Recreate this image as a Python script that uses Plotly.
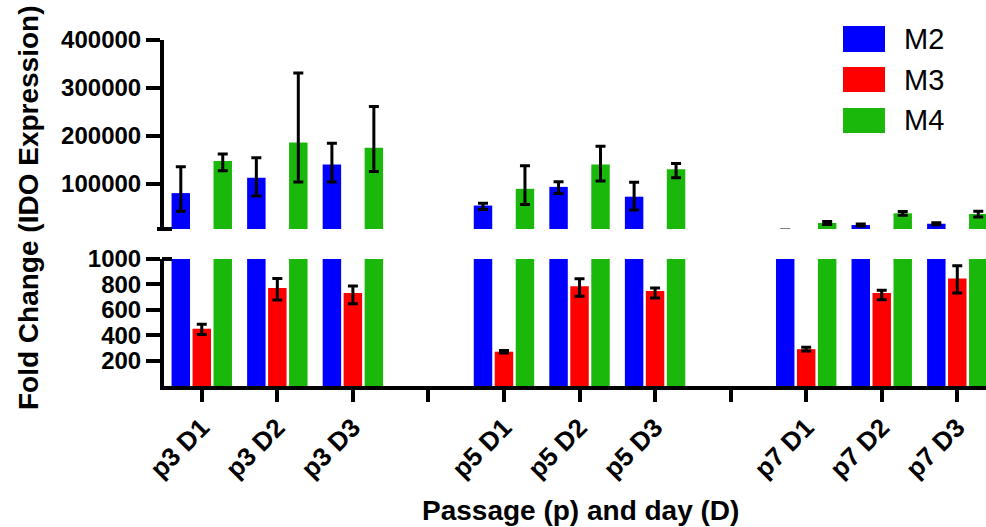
import plotly.graph_objects as go

# ---------------- data ----------------
categories = ["p3 D1", "p3 D2", "p3 D3", "", "p5 D1", "p5 D2", "p5 D3", "", "p7 D1", "p7 D2", "p7 D3"]
series_names = ["M2", "M3", "M4"]

m2_vals = [80000, 112000, 140000, None, 54000, 93000, 72500, None, 3000, 13300, 16000]
m2_err_plus = [55000, 42000, 44000, None, 5000, 11000, 30000, None, None, 2000, 2000]
m2_err_minus = [38000, 38000, 37000, None, 8000, 14000, 28000, None, None, 2000, 2000]

m3_vals = [450, 771, 732, None, 270, 785, 748, None, 290, 732, 847]
m3_err_plus = [36, 76, 55, None, 10, 60, 23, None, 15, 21, 100]
m3_err_minus = [45, 94, 84, None, 10, 79, 56, None, 15, 52, 115]

m4_vals = [147000, 186000, 175000, None, 89000, 140000, 130000, None, 17500, 37700, 36300]
m4_err_plus = [15000, 145000, 86000, None, 48000, 38000, 12000, None, 3000, 4000, 6000]
m4_err_minus = [20000, 83000, 50000, None, 33000, 34500, 18000, None, 3000, 4000, 6000]

top_ticks = [100000, 200000, 300000, 400000]
bottom_ticks = [200, 400, 600, 800, 1000]

colors = {"M2": "#0000FF", "M3": "#FF0000", "M4": "#1BB80C"}

# ---------------- figure ----------------
W, H = 986, 527
FONT = "Liberation Sans, Arial, sans-serif"
xpos = list(range(len(categories)))

fig = go.Figure()

data = {
    "M2": (m2_vals, m2_err_plus, m2_err_minus),
    "M3": (m3_vals, m3_err_plus, m3_err_minus),
    "M4": (m4_vals, m4_err_plus, m4_err_minus),
}

for xa, ya in [("x", "y"), ("x2", "y2")]:
    for name in series_names:
        vals, ep, em = data[name]
        fig.add_trace(go.Bar(
            x=xpos, y=vals, name=name, xaxis=xa, yaxis=ya,
            marker=dict(color=colors[name], line=dict(width=0)),
            error_y=dict(type="data", symmetric=False, array=ep, arrayminus=em,
                         color="black", thickness=3, width=5),
            showlegend=False,
        ))

def px(x):
    return x / W

def py(y):
    return 1 - y / H

x_dom = [px(164), 1.0]
fig.update_layout(
    template="none",
    width=W, height=H, autosize=False,
    margin=dict(l=0, r=0, t=0, b=0, pad=0),
    paper_bgcolor="white", plot_bgcolor="white",
    showlegend=False,
    barmode="group", bargap=0.167, bargroupgap=0.12,
    font=dict(family=FONT, color="black"),
    xaxis=dict(domain=x_dom, range=[-0.5, 10.38], anchor="y", automargin=False,
               tickmode="array", tickvals=xpos, ticktext=categories,
               tickangle=-45, ticks="outside", ticklen=12, tickwidth=3.5, tickcolor="black",
               showline=True, linewidth=4, linecolor="black", showgrid=False, zeroline=False,
               tickfont=dict(family=FONT, size=26, weight="bold")),
    yaxis=dict(domain=[py(386), py(259)], range=[0, 1000], anchor="x", automargin=False,
               tickmode="array", tickvals=bottom_ticks, ticktext=[str(t) for t in bottom_ticks],
               ticks="outside", ticklen=14, tickwidth=3.5, tickcolor="black",
               showline=True, linewidth=4, linecolor="black", showgrid=False, zeroline=False,
               tickfont=dict(family=FONT, size=24, weight="bold")),
    xaxis2=dict(domain=x_dom, range=[-0.5, 10.38], anchor="y2", matches="x", visible=False,
                automargin=False),
    yaxis2=dict(domain=[py(229), py(40)], range=[5000, 400000], anchor="x2", automargin=False,
                tickmode="array", tickvals=top_ticks, ticktext=[str(t) for t in top_ticks],
                ticks="outside", ticklen=14, tickwidth=3.5, tickcolor="black",
                showline=True, linewidth=4, linecolor="black", showgrid=False, zeroline=False,
                tickfont=dict(family=FONT, size=24, weight="bold")),
)

shapes = []
# axis break marks
shapes.append(dict(type="line", xref="paper", yref="paper", x0=px(157), x1=px(172),
                   y0=py(229), y1=py(229), line=dict(color="black", width=4)))
shapes.append(dict(type="line", xref="paper", yref="paper", x0=px(162), x1=px(172),
                   y0=py(259), y1=py(259), line=dict(color="black", width=4)))

# custom legend
annotations = []
leg_rows = [(26, 52, 39), (67, 92, 80), (108, 133, 120)]
for name, (y0, y1, yc) in zip(series_names, leg_rows):
    shapes.append(dict(type="rect", xref="paper", yref="paper", x0=px(843), x1=px(885),
                       y0=py(y1), y1=py(y0), fillcolor=colors[name], line=dict(width=0)))
    annotations.append(dict(text=name, xref="paper", yref="paper", x=px(902), y=py(yc),
                            xanchor="left", yanchor="middle", showarrow=False,
                            font=dict(family=FONT, size=29, color="black")))

annotations.append(dict(text="Fold Change (IDO Expression)", xref="paper", yref="paper",
                        x=px(28), y=py(208), textangle=-90, showarrow=False,
                        xanchor="center", yanchor="middle",
                        font=dict(family=FONT, size=28, weight="bold", color="black")))
annotations.append(dict(text="Passage (p) and day (D)", xref="paper", yref="paper",
                        x=px(580), y=py(510), showarrow=False,
                        xanchor="center", yanchor="middle",
                        font=dict(family=FONT, size=28, weight="bold", color="black")))

fig.update_layout(shapes=shapes, annotations=annotations)

fig.write_html("out.html", config={"displayModeBar": False},
               post_script="document.body.style.margin='0';document.body.style.overflow='hidden';")
